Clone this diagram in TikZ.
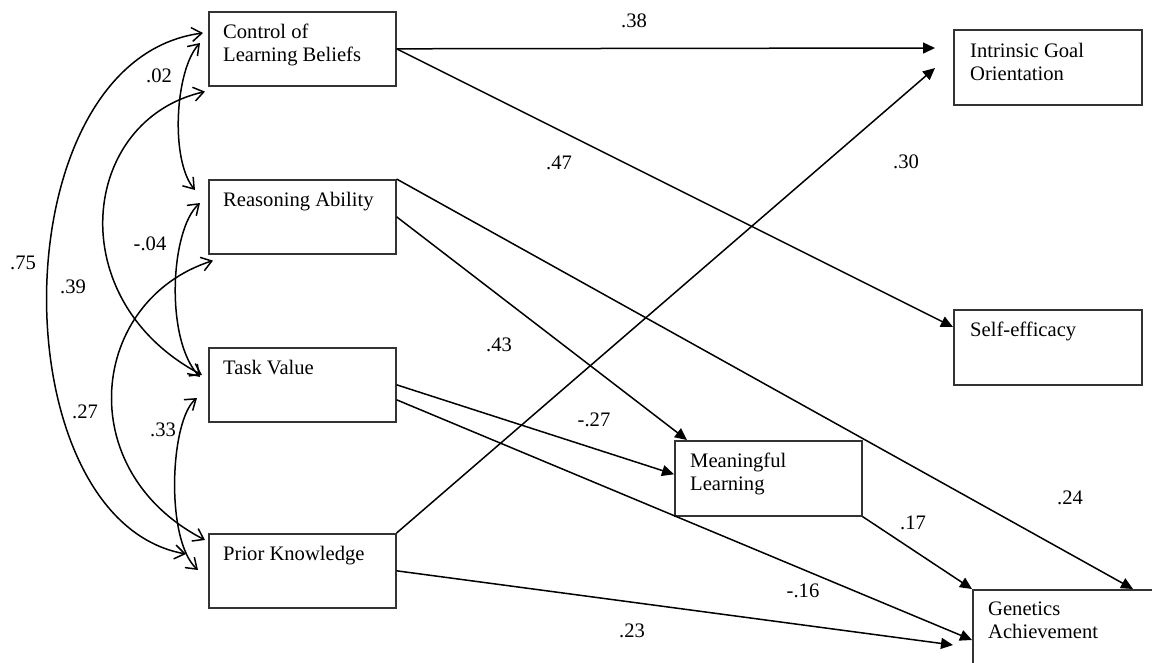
\documentclass[tikz,border=0pt]{standalone}
\usepackage{fontspec}
\setmainfont{Liberation Serif}
\usetikzlibrary{arrows.meta,calc}
\newcommand{\diagfont}{\fontsize{20.6}{23}\selectfont}
\begin{document}
\begin{tikzpicture}[x=1pt,y=-1pt,
  box/.style={draw=black!80, line width=1.6pt, minimum width=187pt, minimum height=74pt, anchor=north west, inner sep=0pt},
  txt/.style={anchor=north west, inner sep=0pt, align=left, font=\diagfont},
  arr/.style={line width=1.5pt, -{Triangle[length=12pt,width=11pt]}},
  cov/.style={line width=1.5pt, {Straight Barb[length=10pt,width=14pt]}-{Straight Barb[length=10pt,width=14pt]}},
  num/.style={font=\diagfont, inner sep=0pt}]
\useasboundingbox (0,0) rectangle (1152,662);
\clip (0,0) rectangle (1152,662);

% boxes
\node[box] (ctrl) at (208,11) {};
\node[box] (reas) at (208,179) {};
\node[box] (task) at (208,347) {};
\node[box] (prior) at (208,533) {};
\node[box, minimum width=188pt, minimum height=75pt] (intr) at (953,29) {};
\node[box, minimum width=188pt, minimum height=75pt] (self) at (953,309) {};
\node[box, minimum height=75pt] (mean) at (674,440) {};
\node[box, minimum width=200pt, minimum height=100pt] (gen) at (972,589) {};

% box texts
\node[txt] (ctrlt) at ($(ctrl.north west)+(15,13)$) {Control of\\Learning Beliefs};
\node[txt] (reast) at ($(reas.north west)+(15,13)$) {Reasoning Ability};
\node[txt] (taskt) at ($(task.north west)+(15,13)$) {Task Value};
\node[txt] (priort) at ($(prior.north west)+(15,13)$) {Prior Knowledge};
\node[txt] (intrt) at ($(intr.north west)+(17,14)$) {Intrinsic Goal\\Orientation};
\node[txt] (selft) at ($(self.north west)+(17,13)$) {Self-efficacy};
\node[txt] (meant) at ($(mean.north west)+(16,13)$) {Meaningful\\Learning};
\node[txt] (gent) at ($(gen.north west)+(16,13)$) {Genetics\\Achievement};

% free ends
\coordinate (intrA) at ($(intr.north west)+(-18,19)$);
\coordinate (intrB) at ($(intr.north west)+(-18,39)$);
\coordinate (genB) at ($(gen.north west)+(-19,56)$);

% directed paths
\draw[arr] (ctrl.east) -- (intrA);
\draw[arr] (ctrl.east) -- ($(self.north west)+(0,18)$);
\draw[arr] (reas.north east) -- ($(gen.north west)+(161,0)$);
\draw[arr] (reas.east) -- ($(mean.north west)+(13,0)$);
\draw[arr] (task.east) -- ($(mean.west)+(0,-4)$);
\draw[arr] ($(task.east)+(0,15)$) -- ($(gen.north west)+(0,51)$);
\draw[arr] (prior.north east) -- (intrB);
\draw[arr] (prior.east) -- (genB);
\draw[arr] (mean.south east) -- (gen.north west);

% correlations
\draw[cov] ($(ctrl.north west)+(-5,22)$) .. controls (-2,60) and (-2,520) .. ($(prior.north west)+(-22,21)$);
\draw[cov] ($(ctrl.south west)+(-3,5)$) .. controls (80,120) and (60,300) .. ($(task.north west)+(-6,28)$);
\draw[cov] ($(ctrl.north west)+(-8,32)$) .. controls (175,70) and (170,160) .. ($(reas.north west)+(-13,11)$);
\draw[cov] ($(reas.north west)+(-8,24)$) .. controls (170,230) and (165,340) .. ($(task.north west)+(-8,30)$);
\draw[cov] ($(reas.south west)+(5,6)$) .. controls (90,300) and (70,470) .. ($(prior.north west)+(-3,7)$);
\draw[cov] ($(task.north west)+(-11,51)$) .. controls (170,420) and (165,540) .. ($(prior.north west)+(-10,37)$);

% coefficients
\node[num] (n38) at (634,21) {.38};
\node[num] (n47) at (559,163) {.47};
\node[num] (n30) at (906,162) {.30};
\node[num] (n43) at (499,345) {.43};
\node[num] (n27m) at (594,420) {-.27};
\node[num] (n24) at (1070,498) {.24};
\node[num] (n17) at (913,523) {.17};
\node[num] (n16) at (803,591) {-.16};
\node[num] (n23) at (632,631) {.23};
\node[num] (n02) at (159,76) {.02};
\node[num] (n75) at (23,263) {.75};
\node[num] (n39) at (73,287) {.39};
\node[num] (n04) at (150,244) {-.04};
\node[num] (n27) at (85,412) {.27};
\node[num] (n33) at (163,430) {.33};
\end{tikzpicture}
\end{document}
